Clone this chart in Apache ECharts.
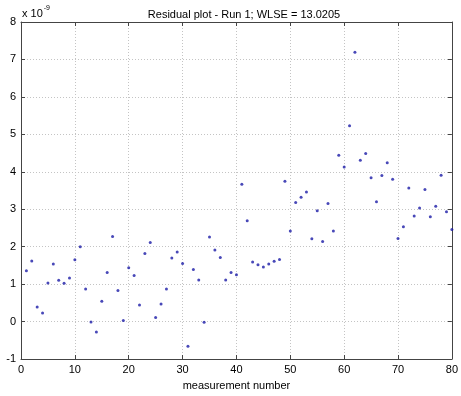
<!DOCTYPE html>
<html>
<head>
<meta charset="utf-8">
<script src="https://cdn.jsdelivr.net/npm/echarts@6/dist/echarts.min.js"></script>
<style>
  html, body { margin: 0; padding: 0; background: #fff; }
  #chart { width: 461px; height: 396px; }
</style>
</head>
<body>
<div id="chart"></div>
<script>
// Residuals per measurement, in units of 1e-9
const measurementNumbers = Array.from({ length: 80 }, (_, i) => i + 1);
const residuals = [
  1.36, 1.62, 0.39, 0.23, 1.03, 1.54, 1.10, 1.02, 1.16, 1.65,
  2.00, 0.87, -0.01, -0.28, 0.54, 1.31, 2.27, 0.83, 0.03, 1.44,
  1.23, 0.44, 1.82, 2.11, 0.11, 0.47, 0.87, 1.70, 1.86, 1.55,
  -0.66, 1.39, 1.11, -0.02, 2.26, 1.91, 1.71, 1.11, 1.31, 1.25,
  3.67, 2.69, 1.59, 1.52, 1.46, 1.54, 1.61, 1.66, 3.75, 2.42,
  3.18, 3.32, 3.46, 2.21, 2.96, 2.14, 3.15, 2.42, 4.44, 4.13,
  5.23, 7.19, 4.31, 4.49, 3.84, 3.20, 3.90, 4.24, 3.80, 2.22,
  2.53, 3.57, 2.82, 3.03, 3.53, 2.80, 3.08, 3.91, 2.93, 2.46
];
const xTicks = [0, 10, 20, 30, 40, 50, 60, 70, 80];
const yTicks = [-1, 0, 1, 2, 3, 4, 5, 6, 7, 8];

const font = 'Liberation Sans, Arial, sans-serif';
const chart = echarts.init(document.getElementById('chart'));

// Top and right axes only close the box and repeat the inward ticks
const frameAxis = {
  axisLine: { show: true, onZero: false, lineStyle: { color: '#444', width: 1 } },
  axisTick: { show: true, inside: true, length: 4, lineStyle: { color: '#444' } },
  axisLabel: { show: false },
  splitLine: { show: false }
};

chart.setOption({
  animation: false,
  backgroundColor: '#fff',
  title: {
    text: 'Residual plot - Run 1; WLSE = 13.0205',
    left: 239, top: 4, textAlign: 'center',
    textStyle: { fontFamily: font, fontSize: 11, fontWeight: 'normal', color: '#000' }
  },
  graphic: [{
    type: 'text', left: 22, top: 5,
    style: {
      text: '{b|x 10}{e|-9}',
      rich: {
        b: { fontFamily: font, fontSize: 11, fill: '#000', verticalAlign: 'bottom' },
        e: { fontFamily: font, fontSize: 7, fill: '#000', padding: [0, 0, 7, 1] }
      }
    }
  }],
  grid: { left: 21, right: 4, top: 22, bottom: 32, containLabel: false },
  xAxis: [{
    type: 'value', min: xTicks[0], max: xTicks[xTicks.length - 1], interval: 10,
    name: 'measurement number', nameLocation: 'middle', nameGap: 21,
    nameTextStyle: { fontFamily: font, fontSize: 11, color: '#000' },
    axisLine: { show: true, onZero: false, lineStyle: { color: '#444' } },
    axisTick: { show: true, inside: true, length: 4, lineStyle: { color: '#444' } },
    axisLabel: { fontFamily: font, fontSize: 11, color: '#000', margin: 5 },
    splitLine: { show: true, lineStyle: { color: '#c4c4c4', type: [1, 2], width: 1 } }
  }, Object.assign({
    type: 'value', position: 'top', min: 0, max: 80, interval: 10
  }, frameAxis)],
  yAxis: [{
    type: 'value', min: yTicks[0], max: yTicks[yTicks.length - 1], interval: 1,
    axisLine: { show: true, onZero: false, lineStyle: { color: '#444' } },
    axisTick: { show: true, inside: true, length: 4, lineStyle: { color: '#444' } },
    axisLabel: { fontFamily: font, fontSize: 11, color: '#000', margin: 5 },
    splitLine: { show: true, lineStyle: { color: '#c4c4c4', type: [1, 2], width: 1 } }
  }, Object.assign({
    type: 'value', position: 'right', min: -1, max: 8, interval: 1
  }, frameAxis)],
  series: [{
    type: 'scatter',
    xAxisIndex: 0, yAxisIndex: 0,
    symbol: 'circle', symbolSize: 3,
    itemStyle: { color: '#1a1aa6' },
    data: measurementNumbers.map((n, i) => [n, residuals[i]])
  }]
});
</script>
</body>
</html>
